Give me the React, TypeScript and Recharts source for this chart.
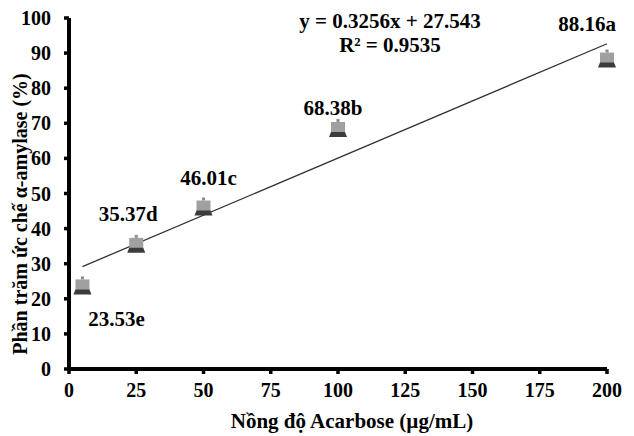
import React from 'react';
import { ComposedChart, Scatter, Line, XAxis, YAxis, LabelList } from 'recharts';

const concentrations = [5, 25, 50, 100, 200];
const inhibition = [23.53, 35.37, 46.01, 68.38, 88.16];
const letters = ['e', 'd', 'c', 'b', 'a'];
const xTicks = [0, 25, 50, 75, 100, 125, 150, 175, 200];
const yTicks = [0, 10, 20, 30, 40, 50, 60, 70, 80, 90, 100];
const slope = 0.3256;
const intercept = 27.543;
const r2 = 0.9535;

const points = concentrations.map((x, i) => ({ x, y: inhibition[i], label: `${inhibition[i].toFixed(2)}${letters[i]}` }));
const trend = [concentrations[0], concentrations[concentrations.length - 1]].map((x) => ({ x, t: slope * x + intercept }));

const FONT = '"Liberation Serif", "Times New Roman", serif';
const LABEL_OFFSETS = [
  { dx: 34, dy: 33 },
  { dx: -8, dy: -31 },
  { dx: 5, dy: -30 },
  { dx: -5, dy: -21 },
  { dx: -20, dy: -36 },
];

const Marker = (props: any) => {
  const { cx, cy } = props;
  return (
    <g>
      <rect x={cx - 1.5} y={cy - 10} width={3} height={3} fill="#8a8a8a" />
      <rect x={cx - 7} y={cy - 7} width={14} height={10.5} fill="#a0a0a0" />
      <polygon points={`${cx - 7},${cy + 3} ${cx + 7},${cy + 3} ${cx + 9},${cy + 8} ${cx - 9},${cy + 8}`} fill="#3c3c3c" />
    </g>
  );
};

const PointLabel = (props: any) => {
  const { x, y, width, height, value, index } = props;
  const cx = x + (width || 0) / 2;
  const cy = y + (height || 0) / 2;
  const o = LABEL_OFFSETS[index] || { dx: 0, dy: -20 };
  return (
    <text x={cx + o.dx} y={cy + o.dy} textAnchor="middle" dominantBaseline="central" fontFamily={FONT} fontWeight="bold" fontSize={21} fill="#000">
      {value}
    </text>
  );
};

const XTick = (props: any) => {
  const { x, y, payload } = props;
  return (
    <text x={x} y={y + 14} textAnchor="middle" dominantBaseline="central" fontFamily={FONT} fontWeight="bold" fontSize={20} fill="#000">
      {payload.value}
    </text>
  );
};

const YTick = (props: any) => {
  const { x, y, payload } = props;
  return (
    <text x={x - 11} y={y} textAnchor="end" dominantBaseline="central" fontFamily={FONT} fontWeight="bold" fontSize={20} fill="#000">
      {payload.value}
    </text>
  );
};

export default function App() {
  return (
    <div style={{ position: 'absolute', left: 0, top: 0, background: '#fff' }}>
      <ComposedChart width={634} height={436} margin={{ top: 18, right: 27, left: 0, bottom: 0 }}>
        <XAxis
          type="number"
          dataKey="x"
          domain={[0, 200]}
          ticks={xTicks}
          height={67}
          axisLine={{ stroke: '#000', strokeWidth: 4 }}
          tickLine={{ stroke: '#000', strokeWidth: 3.5 }}
          tickSize={5}
          tick={<XTick />}
        />
        <YAxis
          type="number"
          domain={[0, 100]}
          ticks={yTicks}
          width={69}
          axisLine={{ stroke: '#000', strokeWidth: 4 }}
          tickLine={{ stroke: '#000', strokeWidth: 3.5 }}
          tickSize={5}
          tick={<YTick />}
        />
        <Line data={trend} dataKey="t" stroke="#333" strokeWidth={1.3} dot={false} activeDot={false} isAnimationActive={false} legendType="none" />
        <Scatter data={points} dataKey="y" shape={<Marker />} isAnimationActive={false}>
          <LabelList dataKey="label" content={<PointLabel />} />
        </Scatter>
        <text x={390} y={21} textAnchor="middle" dominantBaseline="central" fontFamily={FONT} fontWeight="bold" fontSize={21} fill="#000">
          {`y = ${slope}x + ${intercept}`}
        </text>
        <text x={390} y={45} textAnchor="middle" dominantBaseline="central" fontFamily={FONT} fontWeight="bold" fontSize={21} fill="#000">
          {`R² = ${r2}`}
        </text>
        <text x={352} y={421} textAnchor="middle" dominantBaseline="central" fontFamily={FONT} fontWeight="bold" fontSize={21} fill="#000">
          Nồng độ Acarbose (µg/mL)
        </text>
        <text x={20} y={214} transform="rotate(-90 20 214)" textAnchor="middle" dominantBaseline="central" fontFamily={FONT} fontWeight="bold" fontSize={20} fill="#000">
          Phần trăm ức chế α-amylase (%)
        </text>
      </ComposedChart>
    </div>
  );
}
